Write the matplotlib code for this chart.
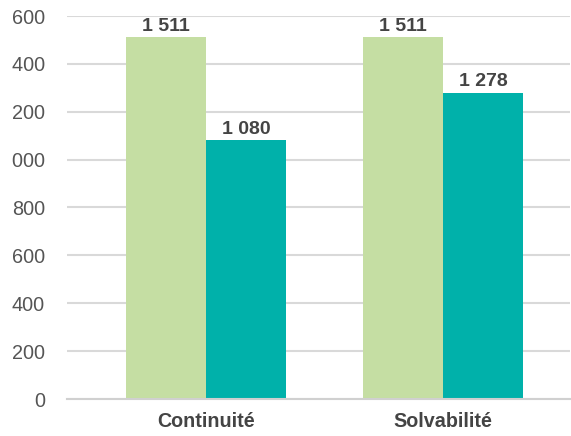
import matplotlib
matplotlib.use("Agg")
import matplotlib.pyplot as plt
from matplotlib.transforms import Bbox
import numpy as np

categories = ["Continuité", "Solvabilité"]
series_a = [1511, 1511]
series_b = [1080, 1278]
value_labels_a = ["1 511", "1 511"]
value_labels_b = ["1 080", "1 278"]
yticks = [0, 200, 400, 600, 800, 1000, 1200, 1400, 1600]
ytick_labels = ["0", "200", "400", "600", "800", "1\u2003000", "1\u2003200", "1\u2003400", "1\u2003600"]

plt.rcParams['font.family'] = ['Liberation Sans', 'DejaVu Sans']

ox = 40  # extra pixels on the left that get cropped away
W, H = 571 + ox, 436
fig = plt.figure(figsize=(W / 100, H / 100), dpi=100)
ax = fig.add_axes([(67 + ox) / W, 37 / H, 503 / W, 383 / H])

x = np.arange(len(categories))
bw = 0.3376
green = "#C5DEA3"
teal = "#00B1AA"
ba = ax.bar(x - bw / 2, series_a, bw, color=green, zorder=2)
bb = ax.bar(x + bw / 2, series_b, bw, color=teal, zorder=2)

for rect, lab in zip(ba, value_labels_a):
    ax.annotate(lab, (rect.get_x() + rect.get_width() / 2, rect.get_height()),
                xytext=(0, 2), textcoords="offset points", ha="center", va="bottom",
                fontsize=14, fontweight="bold", color="#444444")
for rect, lab in zip(bb, value_labels_b):
    ax.annotate(lab, (rect.get_x() + rect.get_width() / 2, rect.get_height()),
                xytext=(0, 2), textcoords="offset points", ha="center", va="bottom",
                fontsize=14, fontweight="bold", color="#444444")

ax.set_xlim(-0.5865, 1.536)
ax.set_ylim(0, 1600)
ax.set_yticks(yticks)
ax.set_yticklabels(ytick_labels, fontsize=14.3, color="#555555")
ax.set_xticks(x)
ax.set_xticklabels(categories, fontsize=14.2, fontweight="bold", color="#444444")
ax.tick_params(axis="y", length=0, pad=16)
ax.tick_params(axis="x", length=0, pad=9)
ax.grid(axis="y", color="#D9D9D9", linewidth=1.5, zorder=0)
for s in ["top", "right", "left"]:
    ax.spines[s].set_visible(False)
ax.spines["bottom"].set_color("#D0D0D0")
ax.spines["bottom"].set_linewidth(1.5)
ax.spines["bottom"].set_zorder(3)

fig.savefig("out.png", dpi=100, bbox_inches=Bbox([[ox / 100, 0], [W / 100, H / 100]]),
            facecolor="white")
